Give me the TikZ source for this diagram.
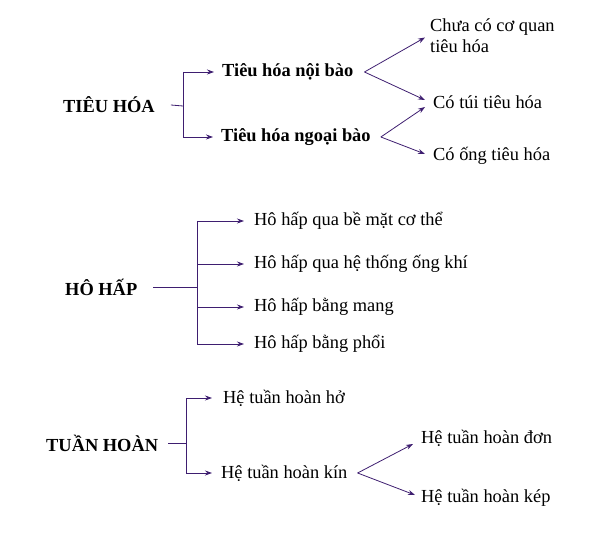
\documentclass[tikz,border=0pt]{standalone}
\usepackage{fontspec}
\setmainfont{Liberation Serif}
\usetikzlibrary{calc}
\usetikzlibrary{arrows.meta}
\definecolor{arrowviolet}{RGB}{62,30,112}
\newcommand*{\txt}{\fontsize{18.4}{21}\selectfont}
\newcommand*{\gap}{10pt}

\begin{document}
\begin{tikzpicture}[x=1pt, y=-1pt, font=\txt,
    every node/.style={inner sep=0pt, anchor=west},
    head/.style={font=\txt\bfseries},
    ln/.style={draw=arrowviolet, line width=0.8pt},
    arr/.style={ln, -{Stealth[length=7pt,width=5pt]}}]
    \useasboundingbox (0,0) rectangle (599,534);

    \node [head] (tieuhoa)  at ( 63,105) {TIÊU HÓA};
    \node [head] (noibao)   at (222, 72) {Tiêu hóa nội bào};
    \node [head] (ngoaibao) at (221,137) {Tiêu hóa ngoại bào};
    \node [align=left] (chuaco) at (430, 36) {Chưa có cơ quan\\tiêu hóa};
    \node (cotui) at (433,102) {Có túi tiêu hóa};
    \node (coong) at (433,156) {Có ống tiêu hóa};
    \coordinate (thfork) at (183,106);
    \draw [ln]  ([xshift=16pt]tieuhoa.east) -- (thfork);
    \draw [ln]  (thfork |- noibao) -- (thfork |- ngoaibao);
    \draw [arr] (thfork |- noibao)   -- ([xshift=-8pt]noibao.west);
    \draw [arr] (thfork |- ngoaibao) -- ([xshift=-8pt]ngoaibao.west);
    \draw [arr] ([xshift=11pt]noibao.east) -- ([xshift=-5pt,yshift=-1.5pt]chuaco.west);
    \draw [arr] ([xshift=11pt]noibao.east) -- ([xshift=-8pt,yshift=2pt]cotui.west);
    \draw [arr] ([xshift=\gap]ngoaibao.east) -- ([xshift=-8pt,yshift=-5pt]cotui.west);
    \draw [arr] ([xshift=\gap]ngoaibao.east) -- ([xshift=-8pt,yshift=2pt]coong.west);

    \node [head] (hohap) at ( 65,287) {HÔ HẤP};
    \node (bemat) at (254,221) {Hô hấp qua bề mặt cơ thể};
    \node (ongkhi) at (254,264) {Hô hấp qua hệ thống ống khí};
    \node (mang) at (254,307) {Hô hấp bằng mang};
    \node (phoi) at (254,344) {Hô hấp bằng phổi};
    \coordinate (hhfork) at (197,287);
    \draw [ln] ([xshift=16pt]hohap.east) -- (hhfork);
    \draw [ln] (hhfork |- bemat) -- (hhfork |- phoi);
    \foreach \n in {bemat,ongkhi,mang,phoi}
        \draw [arr] (hhfork |- \n) -- ([xshift=-\gap]\n.west);

    \node [head] (tuanhoan) at ( 46,443) {TUẦN HOÀN};
    \node (ho)  at (223,398) {Hệ tuần hoàn hở};
    \node (kin) at (221,473) {Hệ tuần hoàn kín};
    \node (don) at (421,438) {Hệ tuần hoàn đơn};
    \node (kep) at (421,498) {Hệ tuần hoàn kép};
    \coordinate (thvfork) at (186,443);
    \draw [ln]  ([xshift=\gap]tuanhoan.east) -- (thvfork);
    \draw [ln]  (thvfork |- ho) -- (thvfork |- kin);
    \draw [arr] (thvfork |- ho)  -- ([xshift=-11pt]ho.west);
    \draw [arr] (thvfork |- kin) -- ([xshift=-9pt]kin.west);
    \draw [arr] ([xshift=\gap]kin.east) -- ([xshift=-8pt,yshift=-6pt]don.west);
    \draw [arr] ([xshift=\gap]kin.east) -- ([xshift=-6pt,yshift=3pt]kep.west);
    %\draw [help lines] (0,0) grid [step=50] (599,534);
\end{tikzpicture}
\end{document}
